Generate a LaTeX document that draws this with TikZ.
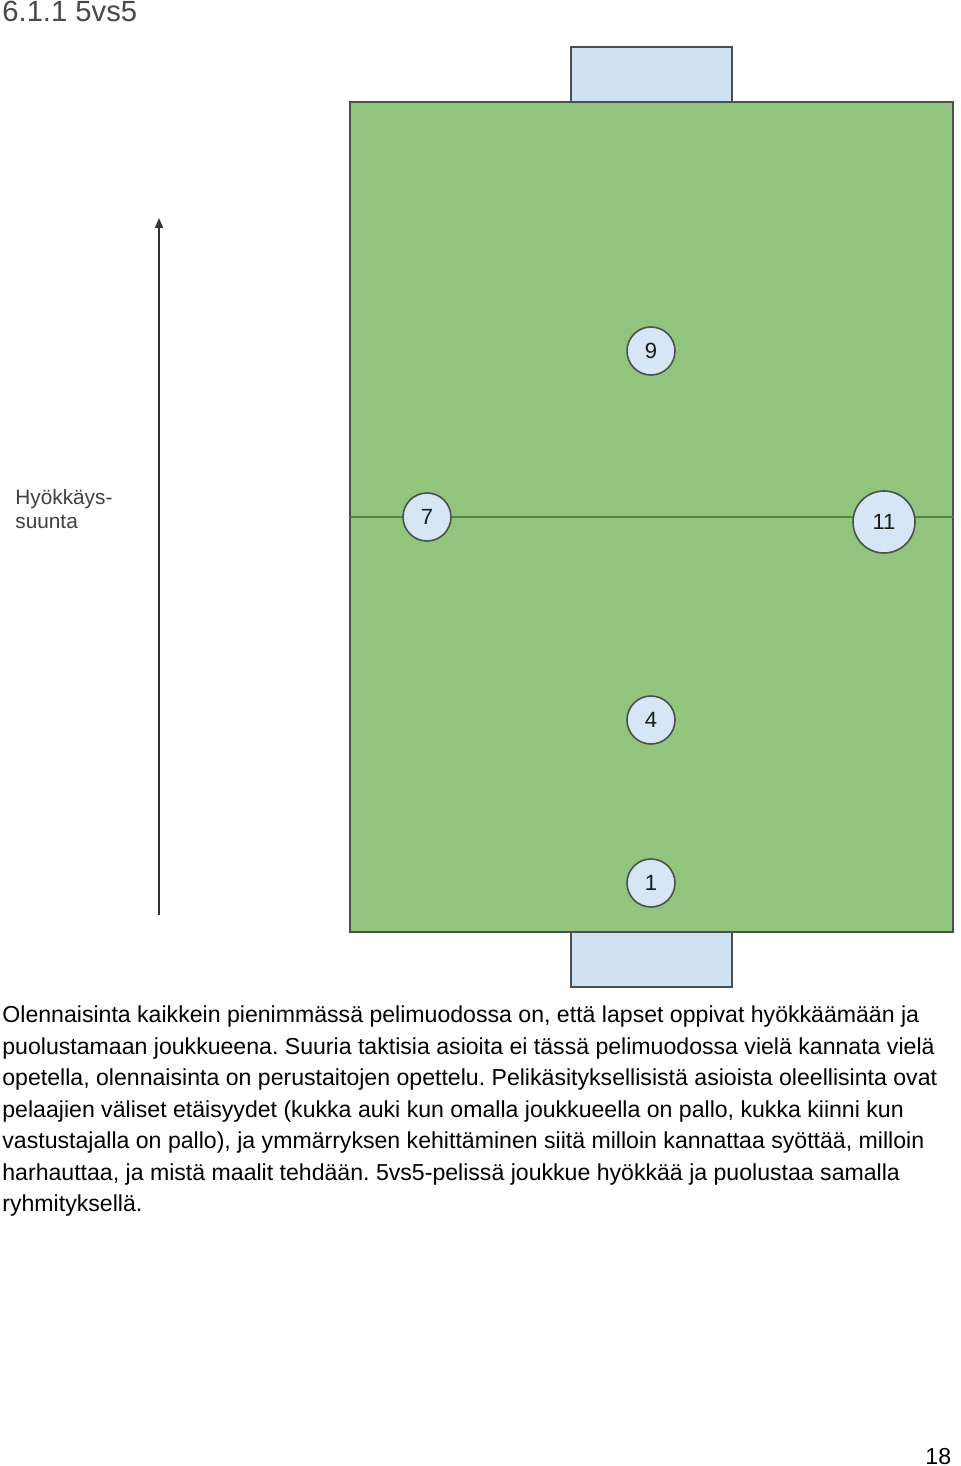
\documentclass[tikz,border=0pt]{standalone}
\usepackage{fontspec}
\setmainfont{Liberation Sans}
\usetikzlibrary{arrows.meta}
\frenchspacing
\definecolor{pitch}{HTML}{93C47D}
\definecolor{goalblue}{HTML}{CFE2F3}
\definecolor{edgegray}{HTML}{4A5050}
\definecolor{midline}{HTML}{6AA84F}
\definecolor{txt}{HTML}{1A1A1A}
\tikzset{
  player/.style={circle, draw=edgegray, line width=0.8pt, fill=goalblue!85!white, inner sep=0pt,
    minimum size=24pt, font=\fontsize{11}{12}\selectfont, text=txt},
  bigplayer/.style={player, minimum size=31pt},
  goalbox/.style={draw=edgegray, line width=0.7pt, fill=goalblue},
  body/.style={anchor=base west, inner sep=0pt, font=\fontsize{11.55}{13}\selectfont, text=black},
  lbl/.style={anchor=base west, inner sep=0pt, font=\fontsize{10.4}{12}\selectfont, text=black!75},
}
\begin{document}
\begin{tikzpicture}[x=0.5pt,y=-0.5pt]
\useasboundingbox (0,0) rectangle (960,1466);
% title
\node[anchor=base west, inner sep=0pt, font=\fontsize{14.6}{16}\selectfont, text=txt!80] (title) at (2,22) {6.1.1 5vs5};
% goals
\draw[goalbox] (571,47) rectangle (732,102);
\draw[goalbox] (571,932) rectangle (732,987);
% pitch
\draw[draw=edgegray, line width=0.7pt, fill=pitch] (350,102) rectangle (953,932);
\coordinate (ml) at (350,517);
\coordinate (mr) at (953,517);
\draw[midline!80!black, line width=0.6pt] (ml) -- (mr);
% players
\node[player] (p9) at (651,351) {9};
\node[player] (p7) at (427,517) {7};
\node[bigplayer] (p11) at (884,522) {11};
\node[player] (p4) at (651,720) {4};
\node[player] (p1) at (651,883) {1};
% direction arrow
\coordinate (ab) at (159,915);
\coordinate (at) at (159,218);
\draw[black!80, line width=0.7pt, -{Triangle[length=5pt,width=4pt]}] (ab) -- (at);
\node[lbl] (lbl1) at (15,504) {Hyökkäys-};
\node[lbl] (lbl2) at (15,528) {suunta};
% body text
\node[body] (t1) at (2,1022) {Olennaisinta kaikkein pienimmässä pelimuodossa on, että lapset oppivat hyökkäämään ja};
\node[body] (t2) at (2,1054) {puolustamaan joukkueena. Suuria taktisia asioita ei tässä pelimuodossa vielä kannata vielä};
\node[body] (t3) at (2,1085) {opetella, olennaisinta on perustaitojen opettelu. Pelikäsityksellisistä asioista oleellisinta ovat};
\node[body] (t4) at (2,1117) {pelaajien väliset etäisyydet (kukka auki kun omalla joukkueella on pallo, kukka kiinni kun};
\node[body] (t5) at (2,1148) {vastustajalla on pallo), ja ymmärryksen kehittäminen siitä milloin kannattaa syöttää, milloin};
\node[body] (t6) at (2,1180) {harhauttaa, ja mistä maalit tehdään. 5vs5-pelissä joukkue hyökkää ja puolustaa samalla};
\node[body] (t7) at (2,1211) {ryhmityksellä.};
% page number
\node[body] (pn) at (925,1464) {18};
\end{tikzpicture}
\end{document}
